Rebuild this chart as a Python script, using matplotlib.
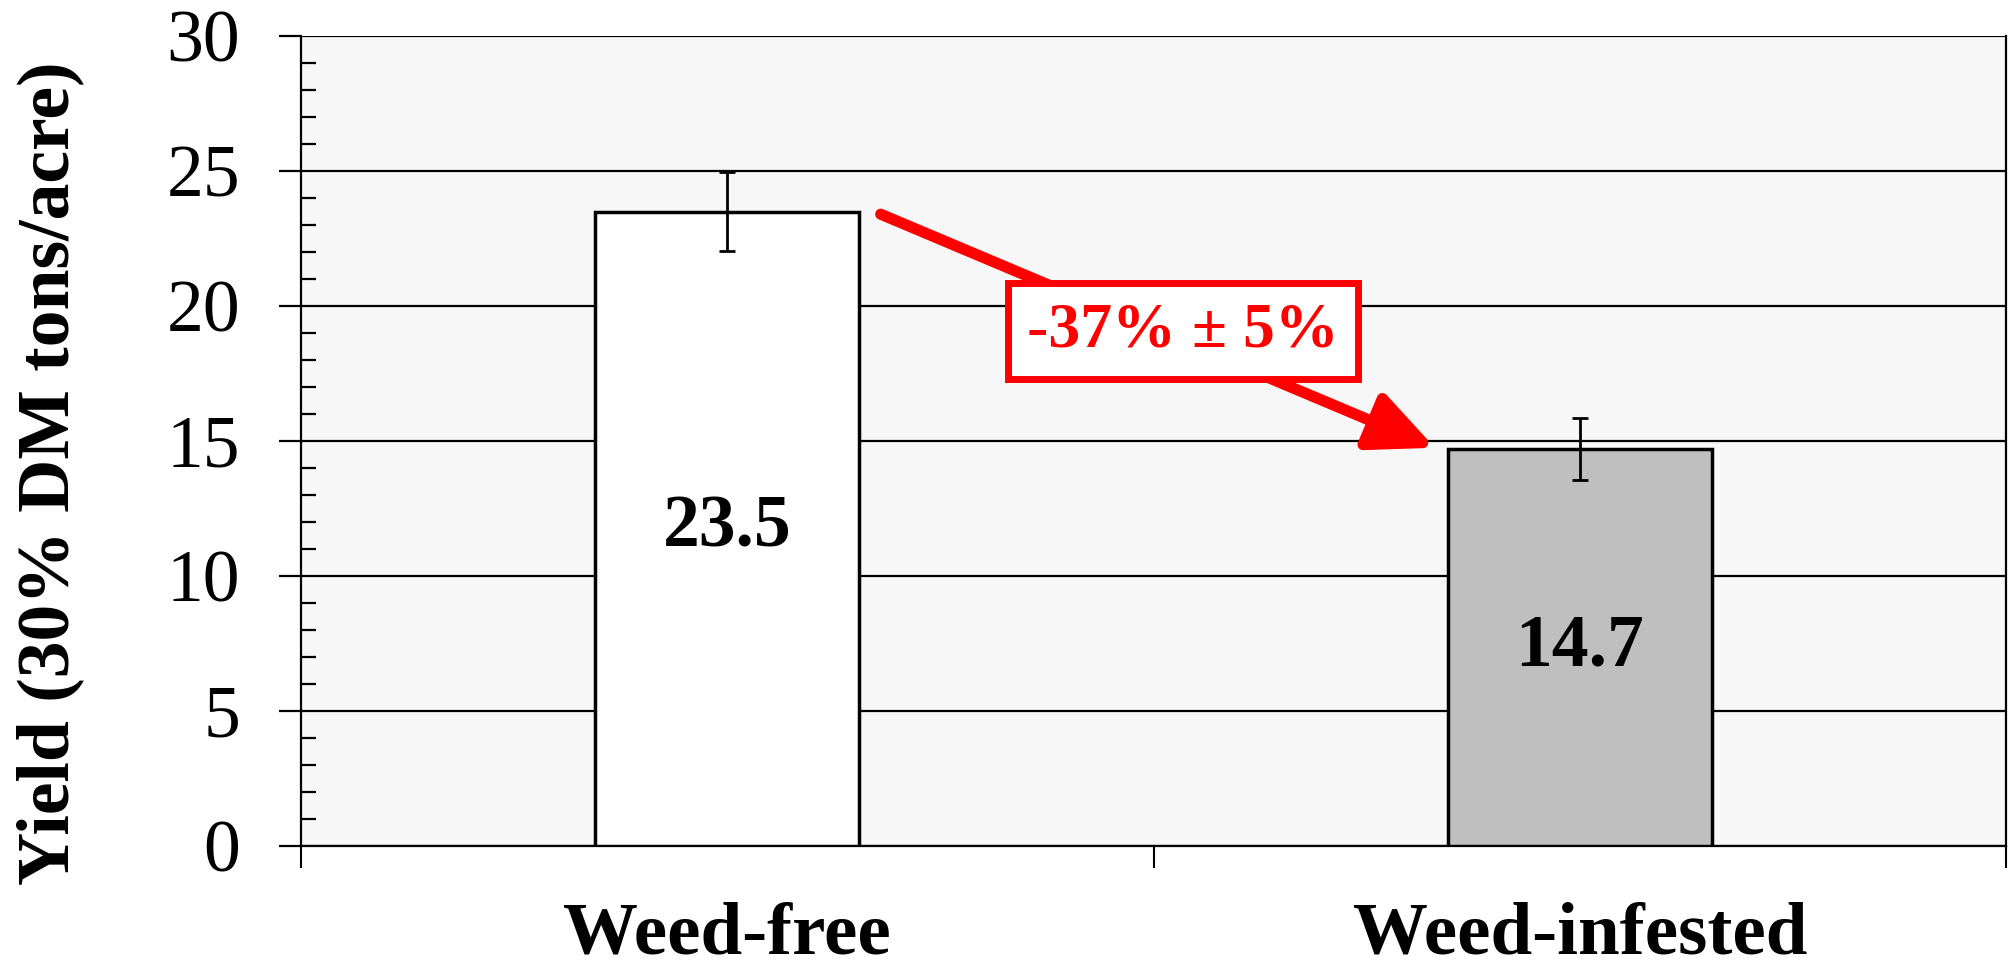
import numpy as np
import matplotlib
matplotlib.use('Agg')
import matplotlib.pyplot as plt
from matplotlib.ticker import MultipleLocator

plt.rcParams['font.family'] = ['Liberation Serif', 'DejaVu Serif']

categories = ['Weed-free', 'Weed-infested']
yields = [23.5, 14.7]
errors = [1.45, 1.15]
bar_colors = ['#FFFFFF', '#BFBFBF']
change_label = '-37% \u00b1 5%'

fig = plt.figure(figsize=(20.1, 9.66), dpi=100)
ax = fig.add_axes([301/2010, 1-846/966, (2006-301)/2010, (846-36)/966])
ax.set_facecolor('#F7F7F7')

x = np.arange(len(categories))
ax.bar(x, yields, width=0.31, color=bar_colors, edgecolor='black', linewidth=2.5, zorder=3)
ax.errorbar(x, yields, yerr=errors, fmt='none', ecolor='black', elinewidth=2,
            capsize=6, capthick=2, zorder=4)

for xi, v in zip(x, yields):
    ax.text(xi, v/2, f'{v:.1f}', ha='center', va='center', fontsize=53,
            fontweight='bold', zorder=5)

ax.set_xlim(-0.5, 1.5)
ax.set_ylim(0, 30)
ax.yaxis.set_major_locator(MultipleLocator(5))
ax.yaxis.set_minor_locator(MultipleLocator(1))
ax.yaxis.grid(True, which='major', color='black', linewidth=1.6, zorder=0)
ax.set_axisbelow(True)

ax.set_xticks([-0.5, 0.5, 1.5])
ax.set_xticklabels([])
ax.set_xticks(x, minor=True)
ax.set_xticklabels(categories, minor=True, fontsize=54, fontweight='bold')
ax.tick_params(axis='x', which='major', direction='out', length=16, width=1.5)
ax.tick_params(axis='x', which='minor', length=0, pad=40)
ax.tick_params(axis='y', which='major', direction='out', length=16, width=1.6,
               labelsize=53, pad=28)
ax.tick_params(axis='y', which='minor', direction='in', length=11, width=1.6)

for s in ['left', 'bottom', 'right']:
    ax.spines[s].set_linewidth(1.6)
ax.spines['top'].set_visible(False)

ax.set_ylabel('Yield (30% DM tons/acre)', fontsize=53, fontweight='bold')
ax.yaxis.set_label_coords(-0.127, 0.46)

ax.annotate('', xy=(0.83, 14.75), xytext=(0.18, 23.4),
            arrowprops=dict(arrowstyle='-|>,head_width=0.6,head_length=1.3',
                            color='red', lw=8, mutation_scale=30,
                            shrinkA=0, shrinkB=0), zorder=6)
ax.text(0.535, 19.07, change_label, ha='center', va='center', fontsize=46,
        fontweight='bold', color='red', zorder=7,
        bbox=dict(boxstyle='square,pad=0.3', facecolor='white', edgecolor='red', linewidth=5))

fig.savefig('out.png', dpi=100)
